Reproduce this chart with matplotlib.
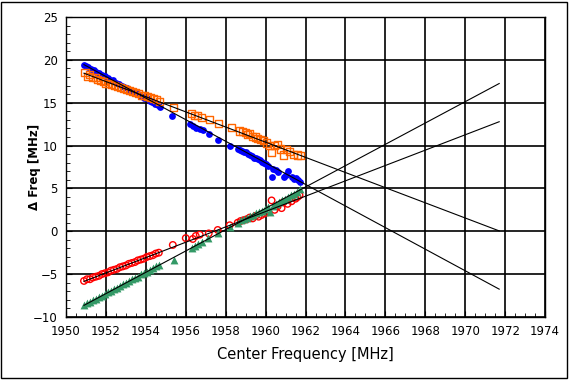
import matplotlib
matplotlib.use("Agg")
import matplotlib.pyplot as plt
import numpy as np
from matplotlib.patches import Rectangle
from matplotlib.ticker import MultipleLocator

# --- data ---
blue_f = [1950.9, 1951.0, 1951.1, 1951.25, 1951.4, 1951.5, 1951.65, 1951.8, 1951.95, 1952.1,
          1952.2, 1952.35, 1952.5, 1952.65, 1952.8, 1952.9, 1953.05, 1953.2, 1953.35, 1953.5,
          1953.6, 1953.75, 1953.9, 1954.05, 1954.2, 1954.3, 1954.45, 1954.6, 1954.7,
          1955.3, 1956.2, 1956.35, 1956.5, 1956.7, 1956.85, 1957.15, 1957.6, 1958.2,
          1958.6, 1958.7, 1958.8, 1958.9, 1959.0, 1959.1, 1959.2, 1959.3, 1959.4, 1959.5,
          1959.6, 1959.7, 1959.8, 1959.9, 1960.0, 1960.1, 1960.3, 1960.35, 1960.5, 1960.6,
          1960.9, 1961.0, 1961.1, 1961.3, 1961.4, 1961.5, 1961.6, 1961.7]
blue_v = [19.4, 19.25, 19.2, 18.9, 18.8, 18.6, 18.5, 18.2, 18.1, 17.9,
          17.7, 17.6, 17.3, 17.2, 17.0, 16.8, 16.7, 16.5, 16.3, 16.1,
          16.0, 15.8, 15.6, 15.5, 15.2, 15.1, 14.9, 14.7, 14.5,
          13.5, 12.5, 12.3, 12.1, 11.9, 11.8, 11.3, 10.7, 10.0,
          9.6, 9.5, 9.4, 9.3, 9.2, 9.0, 8.9, 8.8, 8.6, 8.5,
          8.4, 8.3, 8.1, 8.0, 7.8, 7.6, 6.3, 7.3, 7.1, 6.9,
          6.3, 6.6, 7.0, 6.3, 6.1, 6.2, 6.0, 5.8]

orange_f = [1950.95, 1951.1, 1951.2, 1951.35, 1951.5, 1951.6, 1951.75, 1951.9, 1952.0, 1952.15,
            1952.3, 1952.45, 1952.6, 1952.75, 1952.9, 1953.05, 1953.2, 1953.35, 1953.5, 1953.65,
            1953.8, 1953.95, 1954.1, 1954.25, 1954.4, 1954.55, 1954.7,
            1955.4, 1956.3, 1956.45, 1956.6, 1956.8, 1957.2, 1957.65, 1958.3,
            1958.7, 1958.85, 1959.0, 1959.1, 1959.2, 1959.35, 1959.5, 1959.6, 1959.75, 1959.9,
            1960.05, 1960.2, 1960.3, 1960.45, 1960.6, 1960.75, 1960.9, 1961.05, 1961.2, 1961.4,
            1961.6, 1961.75]
orange_v = [18.5, 18.1, 18.3, 17.9, 17.9, 17.7, 17.6, 17.5, 17.3, 17.3,
            17.1, 17.0, 16.9, 16.8, 16.7, 16.5, 16.4, 16.3, 16.2, 16.1,
            15.9, 15.8, 15.7, 15.6, 15.5, 15.4, 15.2,
            14.5, 13.8, 13.5, 13.5, 13.3, 13.0, 12.6, 12.1,
            11.7, 11.6, 11.5, 11.3, 11.4, 11.1, 11.0, 10.8, 10.7, 10.6,
            10.3, 10.0, 9.2, 10.0, 10.1, 9.6, 8.9, 9.5, 9.3, 9.0,
            8.9, 8.8]

red_f = [1950.9, 1951.05, 1951.2, 1951.35, 1951.5, 1951.65, 1951.8, 1951.95, 1952.1, 1952.25,
         1952.4, 1952.55, 1952.7, 1952.85, 1953.0, 1953.15, 1953.3, 1953.45, 1953.6, 1953.75,
         1953.9, 1954.05, 1954.2, 1954.35, 1954.5, 1954.65,
         1955.35, 1956.0, 1956.35, 1956.5, 1956.7, 1957.15, 1957.6, 1958.2,
         1958.6, 1958.75, 1958.9, 1959.05, 1959.2, 1959.35, 1959.5, 1959.65, 1959.8, 1959.95,
         1960.1, 1960.3, 1960.45, 1960.6, 1960.8, 1960.9, 1961.1, 1961.3, 1961.5, 1961.6, 1961.7]
red_v = [-5.8, -5.6, -5.6, -5.4, -5.3, -5.2, -5.0, -4.9, -4.8, -4.6,
         -4.5, -4.4, -4.2, -4.1, -4.0, -3.8, -3.7, -3.6, -3.4, -3.3,
         -3.2, -3.0, -2.9, -2.8, -2.6, -2.5,
         -1.6, -0.8, -0.9, -0.55, -0.4, -0.25, 0.15, 0.7,
         1.0, 1.2, 1.3, 1.4, 1.6, 1.5, 1.8, 1.7, 1.9, 2.1,
         2.2, 3.6, 2.5, 2.9, 2.7, 3.4, 3.2, 3.5, 3.8, 4.0, 4.2]

green_f = [1950.9, 1951.05, 1951.2, 1951.35, 1951.5, 1951.65, 1951.8, 1951.95, 1952.1, 1952.25,
           1952.4, 1952.55, 1952.7, 1952.85, 1953.0, 1953.15, 1953.3, 1953.45, 1953.6, 1953.75,
           1953.9, 1954.05, 1954.2, 1954.35, 1954.5, 1954.65,
           1955.4, 1956.3, 1956.45, 1956.6, 1956.8, 1957.1, 1957.6, 1958.2,
           1958.6, 1958.75, 1958.9, 1959.05, 1959.2, 1959.35, 1959.5, 1959.65, 1959.8, 1959.95,
           1960.1, 1960.2, 1960.35, 1960.5, 1960.65, 1960.8, 1960.95, 1961.1, 1961.25, 1961.4,
           1961.55, 1961.7]
green_v = [-8.6, -8.4, -8.3, -8.0, -7.9, -7.7, -7.5, -7.3, -7.1, -7.0,
           -6.7, -6.6, -6.4, -6.2, -6.0, -5.8, -5.6, -5.4, -5.3, -5.0,
           -4.9, -4.7, -4.5, -4.3, -4.1, -3.9,
           -3.3, -2.0, -1.7, -1.5, -1.3, -0.8, -0.2, 0.5,
           1.0, 1.3, 1.4, 1.5, 1.8, 1.9, 2.1, 2.3, 2.4, 2.6,
           2.8, 2.3, 3.0, 3.2, 3.4, 3.6, 3.8, 4.0, 4.2, 4.4,
           4.6, 4.9]

# linear fits: value at 1950.9 and slope per MHz, drawn out to 1971.7
fit_start = 1950.9
fit_end = 1971.7
fit_v0 = [19.45, 18.45, -5.85, -8.65]
fit_slope = [-1.26, -0.885, 0.896, 1.245]

fig = plt.figure(figsize=(5.69, 3.80), dpi=100)
ax = fig.add_axes([0.116, 0.166, 0.842, 0.789])

for v0, k in zip(fit_v0, fit_slope):
    xx = np.array([fit_start, fit_end])
    ax.plot(xx, v0 + k * (xx - fit_start), color='black', linewidth=0.8, zorder=3)

ax.scatter(blue_f, blue_v, s=24, marker='o', color='#0000FF', linewidths=0, zorder=2)
ax.scatter(orange_f, orange_v, s=26, marker='s', facecolors='none', edgecolors='#FF6600',
           linewidths=1.0, zorder=2)
ax.scatter(red_f, red_v, s=22, marker='o', facecolors='none', edgecolors='#FF0000',
           linewidths=1.0, zorder=2)
ax.scatter(green_f, green_v, s=32, marker='^', color='#339966', linewidths=0, zorder=2)

ax.set_xlim(1950, 1974)
ax.set_ylim(-10, 25)
ax.xaxis.set_major_locator(MultipleLocator(2))
ax.xaxis.set_minor_locator(MultipleLocator(0.5))
ax.yaxis.set_major_locator(MultipleLocator(5))
ax.yaxis.set_minor_locator(MultipleLocator(1))
ax.grid(True, which='major', color='black', linewidth=1.2)
ax.set_axisbelow(True)
ax.tick_params(which='both', direction='in', color='black', labelsize=8.5, pad=6)
ax.tick_params(which='major', length=4)
ax.tick_params(which='minor', length=3)
for sp in ax.spines.values():
    sp.set_linewidth(1.0)

ax.set_xlabel('Center Frequency [MHz]', fontsize=10.5, labelpad=6)
ax.set_ylabel('Δ Freq [MHz]', fontsize=8.5, fontweight='bold')
ax.yaxis.set_label_coords(-0.052, 0.5)

fig.patches.append(Rectangle((0.002, 0.004), 0.994, 0.991, transform=fig.transFigure,
                             fill=False, edgecolor='black', linewidth=1.0))

fig.savefig('out.png', dpi=100)
